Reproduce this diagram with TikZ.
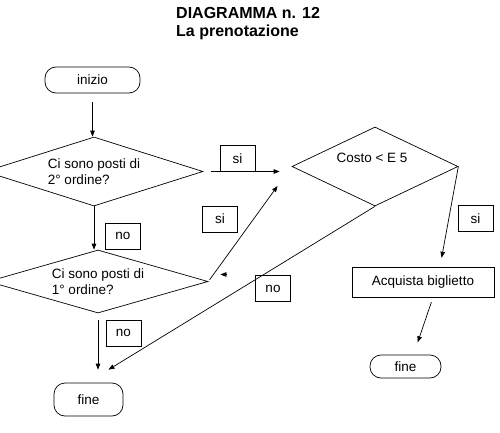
\documentclass[tikz,border=0pt]{standalone}
\usepackage{fontspec}
\setmainfont{Liberation Sans}
\usetikzlibrary{positioning,shapes.geometric,arrows.meta}

\begin{document}
\begin{tikzpicture}[
  x=1pt, y=-1pt,
  font=\fontsize{13.5}{16}\selectfont,
  termBox/.style={draw, rounded corners=11pt, line width=0.7pt, inner sep=0pt},
  askBox/.style ={draw, diamond, line width=0.7pt, inner sep=0pt, align=left},
  doBox/.style  ={draw, line width=0.7pt, inner sep=0pt},
  tagBox/.style ={draw, line width=0.7pt, inner sep=0pt, minimum width=35pt, minimum height=26pt},
  flow/.style   ={line width=0.7pt, -{Triangle[length=6pt,width=4.5pt]}},
]
% page of 500 x 433, left ends of the diamonds cut off
\useasboundingbox (0,0) rectangle (500,433);
\clip (0,0) rectangle (500,433);

\node[font=\bfseries\fontsize{16}{18.5}\selectfont, align=left, anchor=north west, inner sep=0pt]
  (title) at (176,7) {DIAGRAMMA n. 12\\La prenotazione};

% blocks
\node[termBox, minimum width=95pt, minimum height=26pt] (inizio) at (92.5,80) {inizio};
\node[askBox, aspect=3.2, minimum width=218pt, minimum height=69pt] (d1) at (94,171.5) {Ci sono posti di\\2° ordine?};
\node[askBox, aspect=3.5, minimum width=220pt, minimum height=63pt] (d2) at (98,281.5) {Ci sono posti di\\1° ordine?};
\node[askBox, aspect=2.1, minimum width=166pt, minimum height=79pt] (dcosto) at (375,166.5) {};
\node (costo) at ([shift={(-3,-9)}]dcosto.center) {Costo < E 5};
\node[doBox, minimum width=142pt, minimum height=30pt] (acq) at (423,282) {Acquista biglietto};
\node[termBox, minimum width=69pt, minimum height=33pt] (fine1) at (88.5,399.5) {fine};
\node[termBox, minimum width=71pt, minimum height=23pt] (fine2) at (405.5,366.5) {fine};

% answers
\foreach \n/\x/\y/\t in {%
  si1/237.5/158.5/si,
  no1/123/236/no,
  si2/220/219/si,
  no2/273/288.5/no,
  no3/123.5/333/no,
  si3/475.5/218.5/si%
} {
  \node[tagBox] (\n) at (\x,\y) {\t};
}

% connectors
\draw[flow, shorten <=9pt] (inizio.south) -- (inizio.south |- d1.north);
\draw[flow, shorten <=8pt, shorten >=12pt] (d1.east) -- (d1.east -| dcosto.west);
\draw[flow] (d1.south) -- (d1.south |- d2.north);
\draw[flow, shorten <=2pt, shorten >=24pt] (d2.east) -- (dcosto.west);
\draw[flow] ([shift={(18,-7)}]d2.east) -- ++(-6,0);
\draw[flow] (dcosto.south) -- ([shift={(20,-13)}]fine1.north);
\draw[flow, shorten <=7pt, shorten >=13pt] (d2.south) -- (d2.south |- fine1.north);
\draw[flow, shorten >=9pt] (dcosto.east) -- ([xshift=17pt]acq.north);
\draw[flow, shorten <=5pt, shorten >=13pt] ([xshift=10pt]acq.south) -- ([xshift=8pt]fine2.north);
\end{tikzpicture}
\end{document}
